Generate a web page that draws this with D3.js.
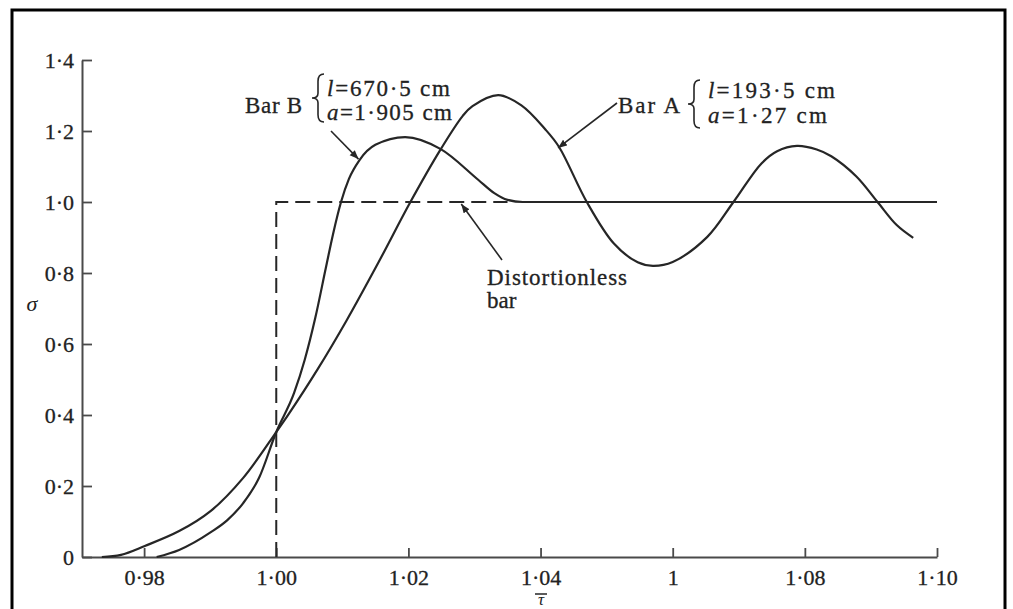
<!DOCTYPE html>
<html>
<head>
<meta charset="utf-8">
<script src="https://cdn.jsdelivr.net/npm/d3@7"></script>
<style>
  html, body { margin: 0; padding: 0; background: #fff; }
  svg { display: block; }
  text { font-family: "Liberation Serif", "DejaVu Serif", serif; fill: #222; }
</style>
</head>
<body>
<svg id="chart" width="1013" height="609"></svg>
<script>
// Axis ticks
const tauTicks = [0.98, 1.00, 1.02, 1.04, 1.06, 1.08, 1.10];
const tauTickLabels = ["0·98", "1·00", "1·02", "1·04", "1", "1·08", "1·10"];
const sigmaTicks = [0, 0.2, 0.4, 0.6, 0.8, 1.0, 1.2, 1.4];
const sigmaTickLabels = ["0", "0·2", "0·4", "0·6", "0·8", "1·0", "1·2", "1·4"];

// Bar A (l = 193.5 cm, a = 1.27 cm)
const barATau = [0.9736, 0.9765, 0.9801, 0.9853, 0.9901, 0.9950, 1.0000, 1.0019, 1.0062, 1.0106,
                 1.0155, 1.0203, 1.0249, 1.0282, 1.0297, 1.0336, 1.0371, 1.0407, 1.0428, 1.0470,
                 1.0511, 1.0547, 1.0570, 1.0600, 1.0652, 1.0692, 1.0734, 1.0758, 1.0788, 1.0818,
                 1.0840, 1.0878, 1.0910, 1.0939, 1.0964];
const barASigma = [0.000, 0.006, 0.031, 0.073, 0.130, 0.223, 0.352, 0.403, 0.527, 0.665,
                   0.831, 1.000, 1.149, 1.242, 1.270, 1.301, 1.272, 1.205, 1.155, 1.000,
                   0.883, 0.830, 0.820, 0.831, 0.901, 1.000, 1.108, 1.143, 1.158, 1.148,
                   1.129, 1.072, 1.000, 0.935, 0.899];

// Bar B (l = 670.5 cm, a = 1.905 cm)
const barBTau = [0.9819, 0.9853, 0.9901, 0.9926, 0.9950, 0.9974, 1.0000, 1.0027, 1.0043, 1.0059,
                 1.0075, 1.0086, 1.0098, 1.0110, 1.0126, 1.0150, 1.0195, 1.0249, 1.0306, 1.0330,
                 1.0350, 1.0373, 1.1000];
const barBSigma = [0.000, 0.020, 0.070, 0.104, 0.152, 0.223, 0.352, 0.462, 0.555, 0.673,
                   0.814, 0.910, 1.000, 1.065, 1.118, 1.161, 1.183, 1.149, 1.062, 1.025,
                   1.006, 1.000, 1.000];

// Distortionless bar: unit step at tau = 1
const stepTau = [1.00, 1.00, 1.035];
const stepSigma = [0, 1.0, 1.0];

const svg = d3.select("#chart");
const x = d3.scaleLinear().domain([0.9706, 1.10]).range([82, 937]);
const y = d3.scaleLinear().domain([0, 1.4]).range([557, 60]);
const ink = "#262626";

// frame
svg.append("rect")
  .attr("x", 12).attr("y", 10).attr("width", 993).attr("height", 620)
  .attr("fill", "none").attr("stroke", "#000").attr("stroke-width", 3);

// axes
const xAxis = d3.axisBottom(x)
  .tickValues(tauTicks)
  .tickFormat((d, i) => tauTickLabels[i])
  .tickSize(-9).tickSizeOuter(0).tickPadding(12);
const yAxis = d3.axisLeft(y)
  .tickValues(sigmaTicks)
  .tickFormat((d, i) => sigmaTickLabels[i])
  .tickSize(-10).tickSizeOuter(0).tickPadding(9);

const gx = svg.append("g").attr("transform", `translate(0,${y(0)})`).call(xAxis);
const gy = svg.append("g").attr("transform", `translate(${x.range()[0]},0)`).call(yAxis);
[gx, gy].forEach(g => {
  g.select(".domain").attr("stroke", "#4a4a4a").attr("stroke-width", 2);
  g.selectAll(".tick line").attr("stroke", "#4a4a4a").attr("stroke-width", 1.8);
  g.selectAll(".tick text")
    .attr("font-family", "Liberation Serif, serif")
    .attr("font-size", 22).attr("fill", "#222")
    .attr("stroke", "#222").attr("stroke-width", 0.3);
});
gy.selectAll(".tick text").attr("dx", "1");

// axis titles
svg.append("text").attr("x", 32).attr("y", 311)
  .attr("text-anchor", "middle").attr("font-size", 22).attr("font-style", "italic")
  .text("σ");
const tauTitle = svg.append("g");
tauTitle.append("text").attr("x", 541).attr("y", 605)
  .attr("text-anchor", "middle").attr("font-size", 17).attr("font-style", "italic")
  .text("τ");
tauTitle.append("line").attr("x1", 535).attr("x2", 547).attr("y1", 594).attr("y2", 594)
  .attr("stroke", ink).attr("stroke-width", 1.5);

// curves
const zip = (a, b) => a.map((v, i) => [v, b[i]]);
const smooth = d3.line().x(d => x(d[0])).y(d => y(d[1])).curve(d3.curveCatmullRom.alpha(0.5));
const settle = d3.line().x(d => x(d[0])).y(d => y(d[1])).curve(d3.curveMonotoneX);
const straight = d3.line().x(d => x(d[0])).y(d => y(d[1]));

svg.append("path").datum(zip(stepTau, stepSigma))
  .attr("d", straight).attr("fill", "none")
  .attr("stroke", ink).attr("stroke-width", 2).attr("stroke-dasharray", "15,7");

svg.append("path").datum(zip(barBTau, barBSigma))
  .attr("d", settle).attr("fill", "none")
  .attr("stroke", ink).attr("stroke-width", 2.2);

svg.append("path").datum(zip(barATau, barASigma))
  .attr("d", smooth).attr("fill", "none")
  .attr("stroke", ink).attr("stroke-width", 2.2);

// arrowhead
svg.append("defs").append("marker")
  .attr("id", "head").attr("viewBox", "0 0 10 10").attr("refX", 10).attr("refY", 5)
  .attr("markerWidth", 9).attr("markerHeight", 9).attr("markerUnits", "userSpaceOnUse")
  .attr("orient", "auto")
  .append("path").attr("d", "M0,1 L10,5 L0,9 Z").attr("fill", ink);

function arrow(x0, y0, x1, y1) {
  svg.append("line").attr("x1", x0).attr("y1", y0).attr("x2", x1).attr("y2", y1)
    .attr("stroke", ink).attr("stroke-width", 1.6).attr("marker-end", "url(#head)");
}

function brace(bx, y1, y2, w) {
  const h = y2 - y1, m = (y1 + y2) / 2, c = bx + w / 2;
  const p = `M${bx + w},${y1} Q${c},${y1} ${c},${y1 + h * 0.15} L${c},${m - h * 0.1}` +
            ` Q${c},${m} ${bx},${m} Q${c},${m} ${c},${m + h * 0.1} L${c},${y2 - h * 0.15}` +
            ` Q${c},${y2} ${bx + w},${y2}`;
  svg.append("path").attr("d", p).attr("fill", "none")
    .attr("stroke", ink).attr("stroke-width", 1.6);
}

function label(tx, ty, str, len) {
  const t = svg.append("text").attr("x", tx).attr("y", ty).attr("font-size", 23)
    .attr("stroke", "#222").attr("stroke-width", 0.3).text(str);
  if (len) t.attr("textLength", len).attr("lengthAdjust", "spacing");
  return t;
}

function paramLine(tx, ty, sym, rest, len) {
  const t = svg.append("text").attr("x", tx).attr("y", ty).attr("font-size", 23)
    .attr("stroke", "#222").attr("stroke-width", 0.3)
    .attr("textLength", len).attr("lengthAdjust", "spacing");
  t.append("tspan").attr("font-style", "italic").text(sym);
  t.append("tspan").text(rest);
}

// Bar B label
label(245, 113, "Bar B", 57);
brace(312, 74, 122, 12);
paramLine(327, 96, "l", "=670·5 cm", 123);
paramLine(327, 120, "a", "=1·905 cm", 125);
arrow(331, 131, x(1.0126) - 1, y(1.118) - 1);

// Bar A label
label(618, 113, "Bar A", 62);
brace(688, 80, 128, 12);
paramLine(708, 98, "l", "=193·5 cm", 127);
paramLine(708, 123, "a", "=1·27 cm", 119);
arrow(617, 103, x(1.0428) - 1, y(1.155) + 1);

// Distortionless label
label(487, 285, "Distortionless", 140);
label(487, 308, "bar");
arrow(502, 260, x(1.028), y(1.0) + 2);
</script>
</body>
</html>
